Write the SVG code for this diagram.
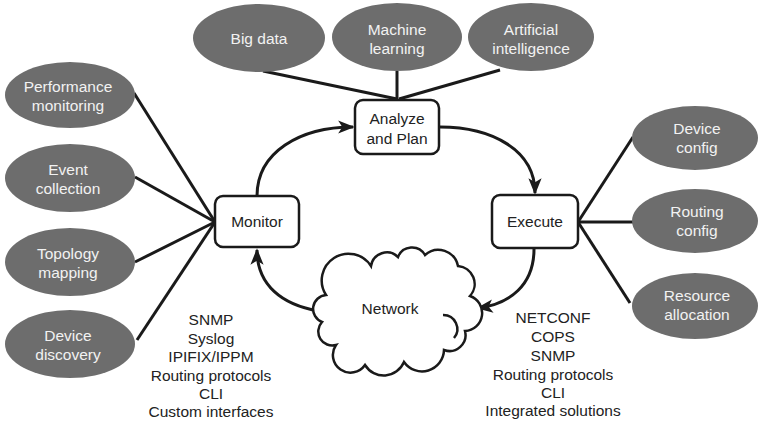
<svg xmlns="http://www.w3.org/2000/svg" width="762" height="424" viewBox="0 0 762 424">
<defs>
<marker id="ah" viewBox="0 0 10 10" refX="9" refY="5" markerWidth="5.5" markerHeight="5.5" orient="auto" markerUnits="strokeWidth">
<path d="M0,1 L10,5 L0,9 L2.5,5 Z" fill="#1a1a1a"/>
</marker>
</defs>
<style>
.ell{fill:#6d6d6d;}
.et{font-family:"Liberation Sans",Arial,sans-serif;font-size:15.5px;fill:#f2f2f2;text-anchor:middle;}
.box{fill:#fff;stroke:#1a1a1a;stroke-width:2.5;}
.bt{font-family:"Liberation Sans",Arial,sans-serif;font-size:15.5px;fill:#222;text-anchor:middle;}
.ln{stroke:#1a1a1a;stroke-width:3;fill:none;}
.arr{stroke:#1a1a1a;stroke-width:3;fill:none;marker-end:url(#ah);}
.pt{font-family:"Liberation Sans",Arial,sans-serif;font-size:15.5px;fill:#222;text-anchor:middle;}
.cl{fill:#fff;stroke:#1a1a1a;stroke-width:2.5;}
</style>
<rect width="762" height="424" fill="#fff"/>
<g id="connectors">
<line class="ln" x1="263" y1="71" x2="397" y2="99"/>
<line class="ln" x1="397" y1="71" x2="397" y2="99"/>
<line class="ln" x1="500" y1="70" x2="399" y2="99"/>
<line class="ln" x1="134" y1="93" x2="215" y2="222"/>
<line class="ln" x1="135" y1="177" x2="215" y2="222"/>
<line class="ln" x1="135" y1="262" x2="215" y2="222"/>
<line class="ln" x1="137" y1="340" x2="215" y2="222"/>
<line class="ln" x1="578" y1="222" x2="633" y2="137"/>
<line class="ln" x1="578" y1="222" x2="633" y2="222"/>
<line class="ln" x1="578" y1="222" x2="630" y2="303"/>
<path class="arr" d="M257,196 C257,152 300,127 353,127"/>
<path class="arr" d="M440,127 C492,127 535,150 535,193"/>
<path class="arr" d="M534,249 C534,285 510,304 478,308"/>
<path class="arr" d="M319,311 C282,305 257,285 257,250"/>
</g>
<g id="big-data"><ellipse class="ell" cx="259" cy="38" rx="66" ry="34"/><text class="et" x="259" y="44">Big data</text></g>
<g id="machine-learning"><ellipse class="ell" cx="397" cy="37" rx="65" ry="34"/><text class="et" x="397" y="35">Machine</text><text class="et" x="397" y="54">learning</text></g>
<g id="artificial-intelligence"><ellipse class="ell" cx="531" cy="37" rx="63" ry="34"/><text class="et" x="531" y="35">Artificial</text><text class="et" x="531" y="54">intelligence</text></g>
<g id="performance-monitoring"><ellipse class="ell" cx="70" cy="95" rx="65" ry="33"/><text class="et" x="68" y="92">Performance</text><text class="et" x="68" y="111">monitoring</text></g>
<g id="event-collection"><ellipse class="ell" cx="70" cy="178" rx="65" ry="34"/><text class="et" x="68" y="175">Event</text><text class="et" x="68" y="194">collection</text></g>
<g id="topology-mapping"><ellipse class="ell" cx="70" cy="262" rx="65" ry="34"/><text class="et" x="68" y="259">Topology</text><text class="et" x="68" y="278">mapping</text></g>
<g id="device-discovery"><ellipse class="ell" cx="70" cy="344" rx="65" ry="34"/><text class="et" x="68" y="341">Device</text><text class="et" x="68" y="360">discovery</text></g>
<g id="device-config"><ellipse class="ell" cx="695" cy="138" rx="63" ry="32"/><text class="et" x="697" y="134">Device</text><text class="et" x="697" y="153">config</text></g>
<g id="routing-config"><ellipse class="ell" cx="695" cy="221" rx="63" ry="32"/><text class="et" x="697" y="217">Routing</text><text class="et" x="697" y="236">config</text></g>
<g id="resource-allocation"><ellipse class="ell" cx="695" cy="306" rx="63" ry="33"/><text class="et" x="697" y="301">Resource</text><text class="et" x="697" y="320">allocation</text></g>
<g id="analyze"><rect class="box" x="355" y="100" width="84" height="54" rx="8"/><text class="bt" x="397" y="124">Analyze</text><text class="bt" x="397" y="144">and Plan</text></g>
<g id="monitor"><rect class="box" x="215" y="196" width="84" height="51" rx="8"/><text class="bt" x="257" y="227">Monitor</text></g>
<g id="execute"><rect class="box" x="492" y="195" width="86" height="53" rx="8"/><text class="bt" x="535" y="227">Execute</text></g>
<g id="network">
<path class="cl" d="M322,322 A14,14 0 0 1 326,295 A26,26 0 0 1 371,266 A16,16 0 0 1 398,257 A15,15 0 0 1 425,255 A20,20 0 0 1 458,266 A18,18 0 0 1 470,296 A18,18 0 0 1 465,331 A16,16 0 0 1 444,350 A22,22 0 0 1 404,362 A22,22 0 0 1 365,365 A16,16 0 0 1 336,345 A14,14 0 0 1 322,322 Z"/>
<path class="ln" style="stroke-width:2.5" d="M443,315 A14,14 0 0 1 454,338"/>
<text class="bt" x="390" y="314">Network</text>
</g>
<g id="monitor-protocols">
<text class="pt" x="211" y="325">SNMP</text>
<text class="pt" x="211" y="344">Syslog</text>
<text class="pt" x="211" y="362">IPIFIX/IPPM</text>
<text class="pt" x="211" y="381">Routing protocols</text>
<text class="pt" x="211" y="399">CLI</text>
<text class="pt" x="211" y="417">Custom interfaces</text>
</g>
<g id="execute-protocols">
<text class="pt" x="553" y="323">NETCONF</text>
<text class="pt" x="553" y="342">COPS</text>
<text class="pt" x="553" y="361">SNMP</text>
<text class="pt" x="553" y="380">Routing protocols</text>
<text class="pt" x="553" y="398">CLI</text>
<text class="pt" x="553" y="416">Integrated solutions</text>
</g>
</svg>
